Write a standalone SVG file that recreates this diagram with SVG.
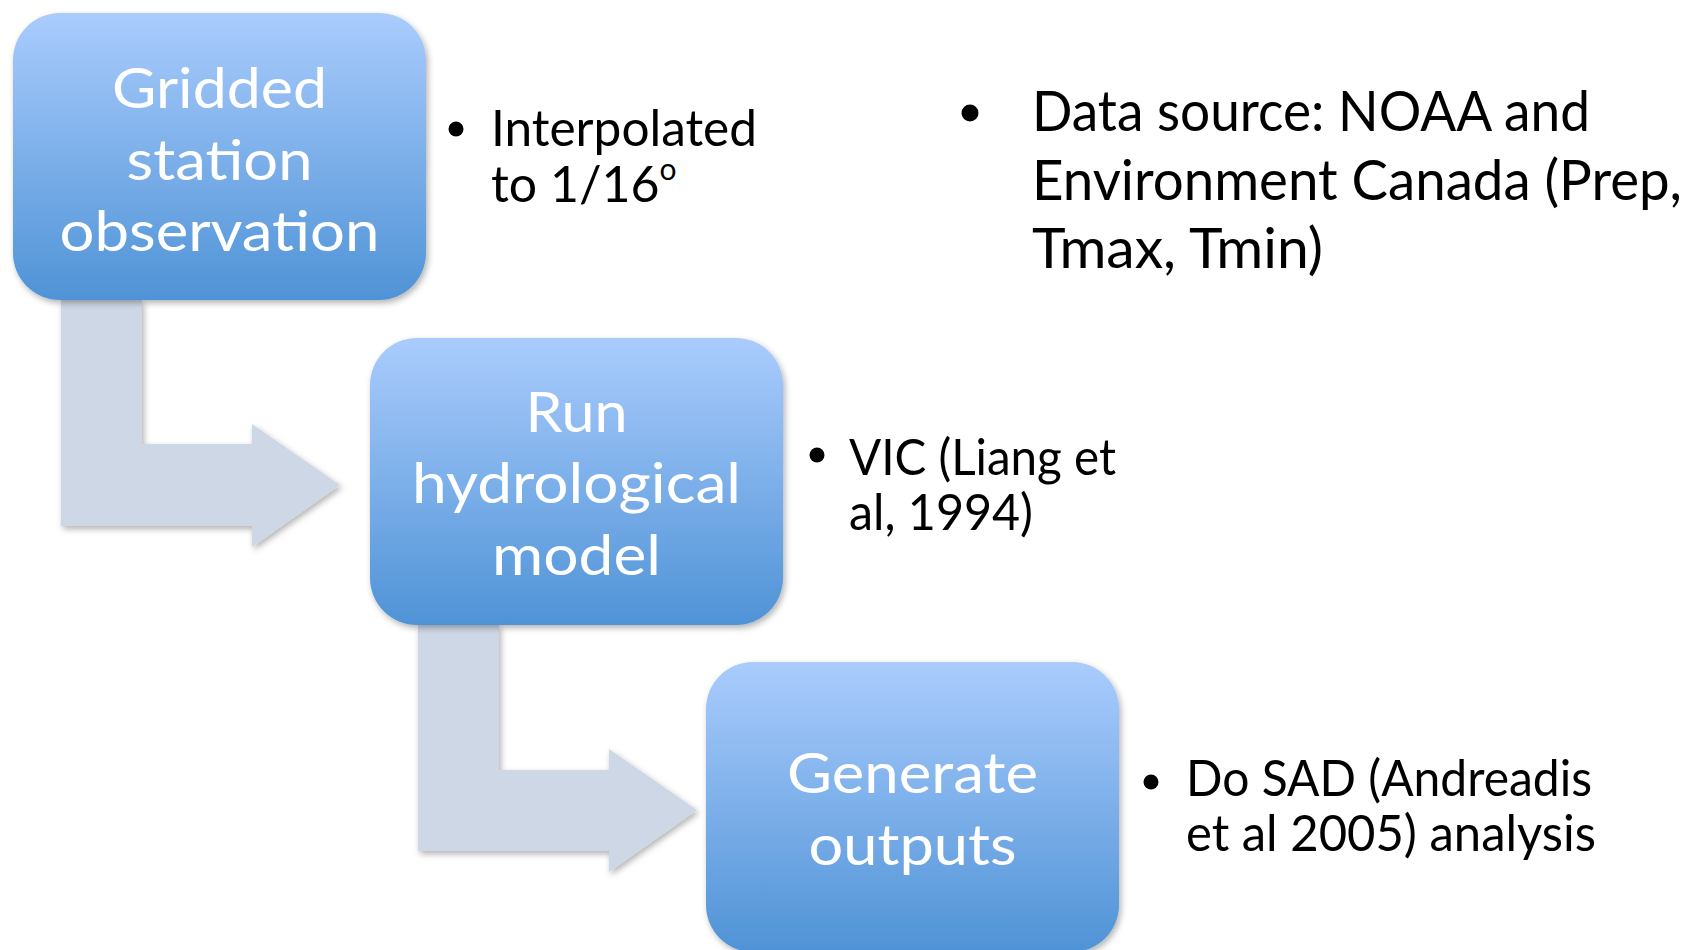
<svg xmlns="http://www.w3.org/2000/svg" width="1691" height="950" viewBox="0 0 1691 950">
<defs>
<linearGradient id="boxGrad" x1="0" y1="0" x2="0" y2="1">
<stop offset="0" stop-color="#AACCFD"/>
<stop offset="1" stop-color="#4F93D6"/>
</linearGradient>
<filter id="shadow" x="-10%" y="-10%" width="120%" height="125%">
<feDropShadow dx="2" dy="3" stdDeviation="3" flood-color="#000" flood-opacity="0.3"/>
</filter>
</defs>
<style>
.box{fill:url(#boxGrad);filter:url(#shadow)}
.arrow{fill:#CDD7E5;filter:url(#shadow)}
.lbl{font-family:Lato,"Open Sans",sans-serif;font-size:57px;fill:#FFFFFF;text-anchor:middle}
.note{font-family:Lato,"Open Sans",sans-serif;font-size:50px;fill:#000000}
.note2{font-family:Lato,"Open Sans",sans-serif;font-size:56px;fill:#000000}
.bul{fill:#000000}
</style>
<rect width="1691" height="950" fill="#FFFFFF"/>
<g id="connectors">
<path class="arrow" d="M61,300 L142,300 L142,444 L252,444 L252,424 L340,485 L252,547 L252,526 L61,526 Z"/>
<path class="arrow" d="M418,625 L499,625 L499,770 L609,770 L609,749 L697,810 L609,872 L609,851 L418,851 Z"/>
</g>
<g id="node-gridded">
<rect class="box" x="13" y="13" width="413" height="287" rx="47" ry="47"/>
<text class="lbl" x="219.5" y="108" textLength="215" lengthAdjust="spacingAndGlyphs">Gridded</text>
<text class="lbl" x="219.5" y="180" textLength="186" lengthAdjust="spacingAndGlyphs">station</text>
<text class="lbl" x="219.5" y="251" textLength="320" lengthAdjust="spacingAndGlyphs">observation</text>
</g>
<g id="node-run">
<rect class="box" x="370" y="338" width="413" height="287" rx="47" ry="47"/>
<text class="lbl" x="576.5" y="432" textLength="102" lengthAdjust="spacingAndGlyphs">Run</text>
<text class="lbl" x="576.5" y="503" textLength="329" lengthAdjust="spacingAndGlyphs">hydrological</text>
<text class="lbl" x="576.5" y="575" textLength="169" lengthAdjust="spacingAndGlyphs">model</text>
</g>
<g id="node-generate">
<rect class="box" x="706" y="662" width="413" height="290" rx="47" ry="47"/>
<text class="lbl" x="912.5" y="793" textLength="251" lengthAdjust="spacingAndGlyphs">Generate</text>
<text class="lbl" x="912.5" y="865" textLength="208" lengthAdjust="spacingAndGlyphs">outputs</text>
</g>
<g id="note-interpolated">
<circle class="bul" cx="456" cy="129" r="7.5"/>
<text class="note" x="491" y="146" textLength="266" lengthAdjust="spacingAndGlyphs">Interpolated</text>
<text class="note" x="491" y="202">to 1/16<tspan font-size="30" dy="-22">o</tspan></text>
</g>
<g id="note-datasource">
<circle class="bul" cx="970" cy="113" r="8.5"/>
<text class="note2" x="1032" y="131" textLength="558" lengthAdjust="spacingAndGlyphs">Data source: NOAA and</text>
<text class="note2" x="1032" y="200" textLength="650" lengthAdjust="spacingAndGlyphs">Environment Canada (Prep,</text>
<text class="note2" x="1032" y="268" textLength="291" lengthAdjust="spacingAndGlyphs">Tmax, Tmin)</text>
</g>
<g id="note-vic">
<circle class="bul" cx="817" cy="455" r="7.5"/>
<text class="note" x="849" y="475" textLength="267" lengthAdjust="spacingAndGlyphs">VIC (Liang et</text>
<text class="note" x="849" y="530" textLength="184" lengthAdjust="spacingAndGlyphs">al, 1994)</text>
</g>
<g id="note-sad">
<circle class="bul" cx="1151" cy="782" r="7.5"/>
<text class="note" x="1186" y="796" textLength="406" lengthAdjust="spacingAndGlyphs">Do SAD (Andreadis</text>
<text class="note" x="1186" y="851" textLength="410" lengthAdjust="spacingAndGlyphs">et al 2005) analysis</text>
</g>
</svg>
